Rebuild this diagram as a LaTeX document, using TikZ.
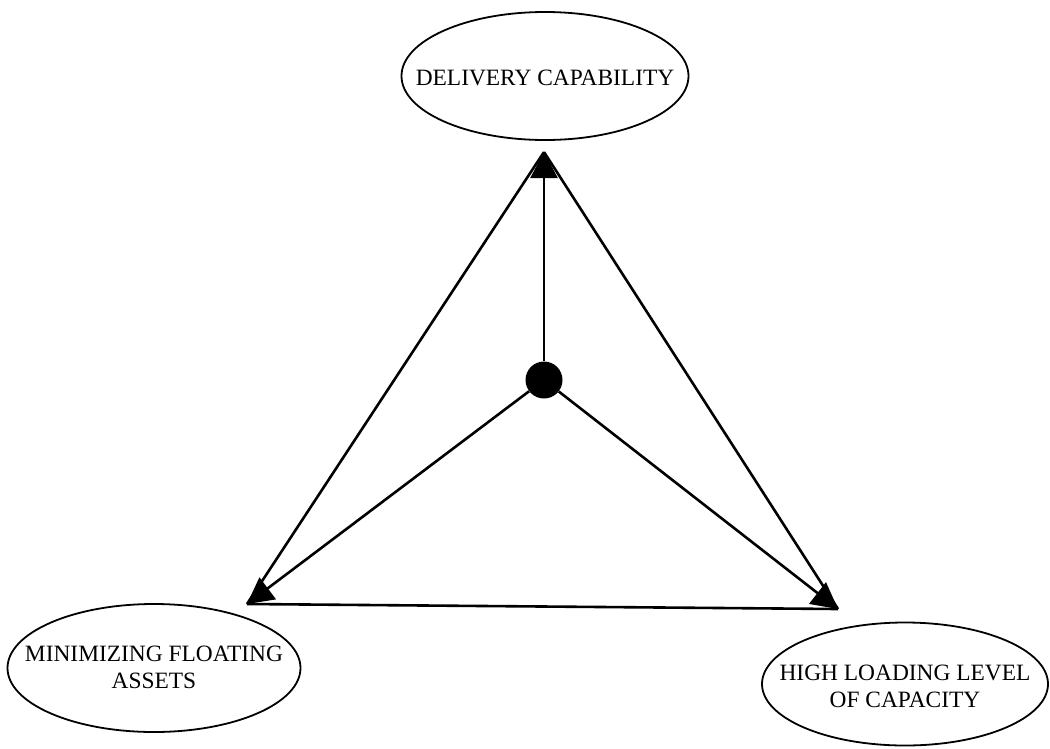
\documentclass[tikz,border=0pt]{standalone}
\usepackage{fontspec}
\setmainfont{Liberation Serif}
\usetikzlibrary{arrows.meta}
\begin{document}
\begin{tikzpicture}[x=1pt,y=-1pt,
  goal/.style={inner sep=0pt,align=center,
    font=\fontsize{23.4}{27}\selectfont},
  rim/.style={line width=1.8pt},
  link/.style={line width=2.6pt},
  push/.style={link,-{Triangle[length=26pt,width=27pt]}}]
\useasboundingbox (0,0) rectangle (1050,748);
% the three goals, each inside an oval
\node[goal] (dc) at (545,78) {DELIVERY CAPABILITY};
\node[goal] (mfa) at (154,667) {MINIMIZING FLOATING\\ASSETS};
\node[goal] (hll) at (905,686) {HIGH LOADING LEVEL\\OF CAPACITY};
\draw[rim] (545,76) ellipse [x radius=143.5, y radius=64];
\draw[rim] (154,668) ellipse [x radius=146.5, y radius=64];
\draw[rim] (905,684) ellipse [x radius=143, y radius=61.5];
% corners of the triangle and its centre
\coordinate (vt) at (544,152);
\coordinate (vl) at (247,604);
\coordinate (vr) at (838,609);
\node[circle,fill=black,minimum size=37pt,inner sep=0pt] (c) at (544,380) {};
% sides
\draw[link] (vt) -- (vl);
\draw[link] (vt) -- (vr);
\draw[link] (vl) -- (vr);
% spokes
\draw[push] (c) -- (vt);
\draw[push] (c) -- (vl);
\draw[push] (c) -- (vr);
\end{tikzpicture}
\end{document}
